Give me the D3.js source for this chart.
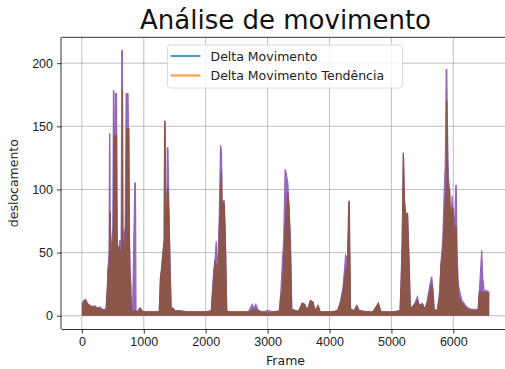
<!DOCTYPE html>
<html>
<head>
<meta charset="utf-8">
<script src="https://cdn.jsdelivr.net/npm/d3@7"></script>
<style>
  body { margin: 0; background: #fff; }
  svg { display: block; font-family: "DejaVu Sans", sans-serif; }
  .grid line { stroke: #b0b0b0; stroke-width: 0.8; }
  .axis path, .axis line { stroke: #000; stroke-width: 0.8; }
  .axis text { fill: #222; font-size: 12.5px; }
</style>
</head>
<body>
<svg id="chart" width="505" height="369"></svg>
<script>
// frames, with the two series read at each one
const frames = [
  0, 30, 60, 90, 130, 170, 210, 250, 290, 330, 370, 392,
  400, 410, 425, 440, 447, 452, 458, 470, 485, 500,
  510, 518, 530, 545, 560, 570, 585, 600, 615, 635,
  645, 655, 662, 680, 700, 715, 725, 745, 760, 770,
  785, 800, 820, 855, 865, 875,
  900, 940, 970, 1000, 1100, 1200, 1250,
  1270, 1285, 1310, 1330, 1337, 1345, 1355, 1370, 1380, 1390, 1405, 1425, 1442, 1470, 1500,
  1600, 1700, 1800, 1900, 2000, 2090,
  2110, 2130, 2150, 2170, 2185, 2200, 2220, 2240, 2255, 2265, 2280, 2300, 2320, 2340,
  2380, 2450, 2550, 2650, 2700, 2750, 2780, 2810, 2840, 2900, 3000, 3100, 3190,
  3210, 3240, 3260, 3283, 3300, 3326, 3345, 3370, 3390,
  3450, 3500, 3560, 3600, 3640, 3690, 3730, 3770, 3815, 3850, 3950, 4050, 4130,
  4180, 4220, 4260, 4290, 4310, 4320, 4340,
  4400, 4440, 4480, 4600, 4700, 4790, 4830, 4950, 5050, 5140,
  5160, 5175, 5193, 5210, 5230, 5260, 5290, 5305,
  5350, 5380, 5420, 5450, 5500, 5540, 5580, 5620, 5650, 5675, 5690, 5740,
  5780, 5800, 5830, 5850, 5870, 5885, 5894, 5905, 5920, 5940, 5960, 5980, 6000, 6020, 6040, 6048, 6060, 6080, 6108,
  6140, 6170, 6200, 6240, 6297, 6350, 6400,
  6420, 6445, 6459, 6475, 6500, 6530, 6560, 6580
];
const deltaMovimento = [
  9, 12, 13, 10, 8, 7, 8, 6, 7, 5, 5, 6,
  15, 20, 40, 50, 144, 144, 60, 50, 60, 70,
  178, 178, 80, 176, 176, 50, 48, 55, 60, 55,
  210, 210, 70, 60, 70, 176, 176, 176, 120, 60,
  30, 8, 4, 105, 105, 4,
  3, 6, 4, 3, 3, 3, 3,
  30, 36, 50, 60, 150, 120, 60, 80, 133, 133, 90, 40, 5, 6, 4,
  4, 3, 3, 3, 3, 4,
  20, 36, 44, 59, 30, 50, 80, 135, 130, 90, 91, 91, 60, 4,
  3, 3, 3, 3, 4, 9, 6, 9, 5, 3, 4, 3, 4,
  15, 44, 60, 116, 113, 105, 87, 60, 5,
  4, 4, 10, 9, 4, 12, 11, 4, 8, 3, 3, 3, 4,
  12, 23, 48, 45, 70, 60, 5,
  4, 8, 4, 3, 3, 10, 3, 3, 3, 4,
  34, 60, 129, 92, 80, 81, 40, 6,
  8, 10, 15, 8, 10, 5, 12, 24, 31, 20, 5, 4,
  20, 42, 60, 94, 120, 195, 195, 150, 110, 100, 60, 95, 80, 70, 103, 103, 50, 25, 18,
  12, 10, 8, 6, 5, 5, 5,
  19, 40, 52, 30, 19, 20, 19, 19
];
const deltaTendencia = [
  8, 11, 12, 9, 8, 7, 7, 6, 6, 5, 4, 5,
  12, 20, 38, 39, 60, 82, 82, 45, 50, 60,
  70, 140, 143, 143, 143, 60, 45, 55, 50, 50,
  60, 179, 60, 55, 60, 90, 148, 148, 148, 35,
  30, 5, 3, 4, 4, 3,
  3, 6, 4, 3, 3, 3, 3,
  30, 36, 50, 60, 154, 154, 60, 80, 100, 102, 80, 35, 5, 6, 4,
  3, 3, 3, 3, 3, 3,
  18, 30, 44, 40, 25, 40, 60, 100, 115, 80, 89, 88, 50, 4,
  3, 3, 3, 3, 3, 4, 5, 5, 4, 3, 2, 3, 3,
  15, 20, 40, 70, 80, 98, 87, 50, 5,
  4, 3, 10, 9, 4, 12, 11, 4, 8, 3, 3, 3, 4,
  10, 20, 35, 40, 90, 91, 5,
  4, 8, 4, 3, 3, 10, 3, 3, 3, 4,
  30, 60, 129, 92, 80, 81, 30, 6,
  7, 9, 12, 8, 9, 5, 10, 20, 25, 15, 5, 4,
  15, 40, 50, 70, 90, 100, 170, 120, 95, 100, 70, 86, 84, 60, 70, 70, 40, 15, 12,
  9, 8, 6, 5, 4, 4, 4,
  19, 19, 19, 18, 18, 19, 18, 17
];
const xTicks = [0, 1000, 2000, 3000, 4000, 5000, 6000];
const yTicks = [0, 50, 100, 150, 200];
const legendLabels = ['Delta Movimento', 'Delta Movimento Tendência'];

const svg = d3.select('#chart');
const plotLeft = 61.5, plotTop = 37.3, plotBottom = 329, plotRight = 509.6;

const xMin = d3.min(frames), xMax = d3.max(frames);
const xPad = (xMax - xMin) * 0.05;
const yMax = d3.max(deltaMovimento.concat(deltaTendencia));
const yPad = yMax * 0.05;

const x = d3.scaleLinear().domain([xMin - xPad, xMax + xPad]).range([plotLeft, plotRight]);
const y = d3.scaleLinear().domain([-yPad, yMax + yPad]).range([plotBottom, plotTop]);

// grid
const grid = svg.append('g').attr('class', 'grid');
grid.selectAll('.gx').data(xTicks).join('line')
  .attr('x1', d => x(d)).attr('x2', d => x(d))
  .attr('y1', plotTop).attr('y2', plotBottom);
grid.selectAll('.gy').data(yTicks).join('line')
  .attr('x1', plotLeft).attr('x2', plotRight)
  .attr('y1', d => y(d)).attr('y2', d => y(d));

const series = (vals) => frames.map((f, i) => ({ f, v: vals[i] }));

const area = d3.area()
  .x(d => x(d.f))
  .y0(y(0))
  .y1(d => y(d.v));
const line = d3.line()
  .x(d => x(d.f))
  .y(d => y(d.v));

svg.append('path')
  .datum(series(deltaMovimento))
  .attr('d', area)
  .attr('fill', '#9467bd');
svg.append('path')
  .datum(series(deltaMovimento))
  .attr('d', line)
  .attr('fill', 'none')
  .attr('stroke', '#9467bd')
  .attr('stroke-width', 1.2);

svg.append('path')
  .datum(series(deltaTendencia))
  .attr('d', area)
  .attr('fill', '#8c564b');
svg.append('path')
  .datum(series(deltaTendencia))
  .attr('d', line)
  .attr('fill', 'none')
  .attr('stroke', '#8c564b')
  .attr('stroke-width', 1.2);

// axes
svg.append('g')
  .attr('class', 'axis')
  .attr('transform', `translate(0,${plotBottom})`)
  .call(d3.axisBottom(x).tickValues(xTicks).tickFormat(d3.format('d'))
    .tickSize(4.5).tickPadding(4).tickSizeOuter(0))
  .call(g => g.select('.domain').attr('d', `M${plotLeft},0.5H${plotRight}`));

svg.append('g')
  .attr('class', 'axis')
  .attr('transform', `translate(${plotLeft},0)`)
  .call(d3.axisLeft(y).tickValues(yTicks).tickFormat(d3.format('d'))
    .tickSize(4.5).tickPadding(4).tickSizeOuter(0))
  .call(g => g.select('.domain').attr('d', `M-0.5,${plotTop}V${plotBottom}`));

svg.append('line')
  .attr('x1', plotLeft).attr('x2', plotRight)
  .attr('y1', plotTop).attr('y2', plotTop)
  .attr('stroke', '#000').attr('stroke-width', 0.8);

// labels
svg.append('text')
  .attr('x', (plotLeft + plotRight) / 2).attr('y', 29)
  .attr('text-anchor', 'middle')
  .attr('font-size', 26)
  .attr('fill', '#111')
  .text('Análise de movimento');

svg.append('text')
  .attr('x', x(3290)).attr('y', 365)
  .attr('text-anchor', 'middle')
  .attr('font-size', 12.5)
  .attr('fill', '#222')
  .text('Frame');

svg.append('text')
  .attr('transform', `translate(18,${(plotTop + plotBottom) / 2}) rotate(-90)`)
  .attr('text-anchor', 'middle')
  .attr('font-size', 12.5)
  .attr('fill', '#222')
  .text('deslocamento');

// legend
const lg = svg.append('g').attr('transform', 'translate(167.5,45)');
lg.append('rect')
  .attr('width', 235).attr('height', 43).attr('rx', 3)
  .attr('fill', '#fff').attr('fill-opacity', 0.8)
  .attr('stroke', '#d0d0d0').attr('stroke-width', 0.8);
const legendColors = ['#1f77b4', '#ff7f0e'];
lg.selectAll('.item').data(legendLabels).join('g')
  .attr('transform', (d, i) => `translate(0,${11 + i * 19.5})`)
  .each(function (d, i) {
    const g = d3.select(this);
    g.append('line')
      .attr('x1', 3).attr('x2', 33)
      .attr('stroke', legendColors[i]).attr('stroke-opacity', 0.75)
      .attr('stroke-width', 2.2);
    g.append('text')
      .attr('x', 43).attr('y', 4.5)
      .attr('font-size', 12.5).attr('fill', '#222')
      .text(d);
  });
</script>
</body>
</html>
